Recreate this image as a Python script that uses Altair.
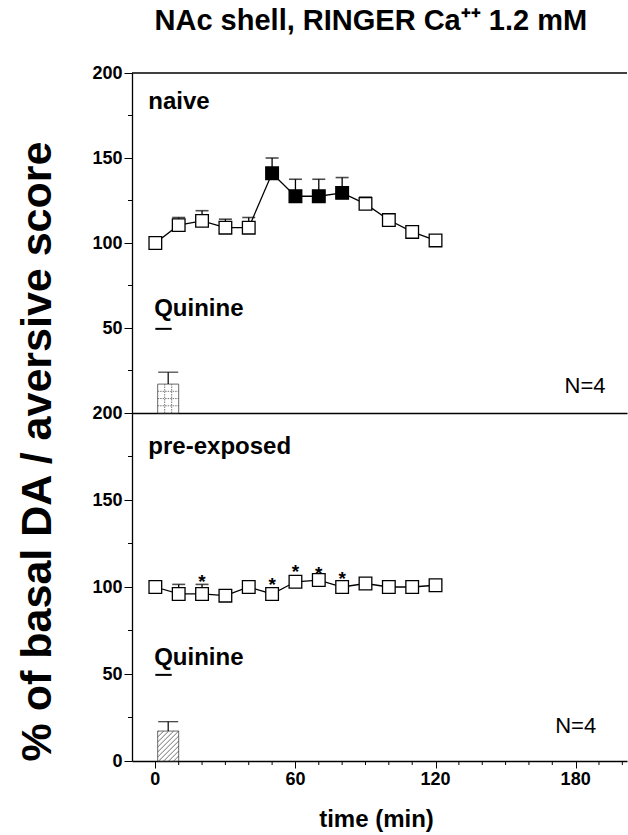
import altair as alt
import pandas as pd

FONT = "Liberation Sans"

# ---------------- values ----------------
time_min = [0, 10, 20, 30, 40, 50, 60, 70, 80, 90, 100, 110, 120]

naive_mean = [100, 110.5, 113, 109, 109, 141, 127.5, 127.5, 129.5, 123, 113.5, 106.5, 101.5]
naive_sem = [0, 4.5, 6, 5, 6, 9, 10, 10, 9, 4, 3.5, 0, 0]
naive_significant = [False, False, False, False, False, True, True, True, True,
                     False, False, False, False]

pre_mean = [100, 96, 96, 95, 100, 96, 103, 104, 100, 102, 100, 100, 101]
pre_sem = [0, 5.5, 5.5, 0, 0, 0, 0, 0, 0, 0, 0, 0, 0]

star_time = [20, 50, 60, 70, 80]
star_value = [106, 104, 111.5, 110.5, 107.5]

# aversive score bars (during quinine)
score_start = 1
score_end = 10
naive_score = 17
naive_score_sem = 7
pre_score = 17.2
pre_score_sem = 5.4

# quinine infusion marker
quinine_start = 0
quinine_end = 7
quinine_level = 49.5

# axis ticks
y_major = [50, 100, 150, 200]
y_minor = [25, 75, 125, 175]
x_major = [0, 60, 120, 180]
x_major_labels = ["0", "60", "120", "180"]
x_minor = [10, 20, 30, 40, 50, 70, 80, 90, 100, 110, 130, 140, 150, 160, 170, 190, 200]

# ---------------- layout ----------------
W = 495
H_TOP = 340
H_BOT = 348
X_DOMAIN = [-10, 202]
xs = alt.Scale(domain=X_DOMAIN, nice=False, zero=False)
ys = alt.Scale(domain=[0, 200], nice=False, zero=False)

px_per_min = W / (X_DOMAIN[1] - X_DOMAIN[0])


def series_df(mean, sem, sig):
    return pd.DataFrame({
        "time": time_min,
        "mean": mean,
        "sem": sem,
        "upper": [m + s for m, s in zip(mean, sem)],
        "marker": ["filled" if s else "open" for s in sig],
    })


def X(field, axis=alt.Undefined):
    return alt.X(field, type="quantitative", scale=xs, axis=axis)


def Y(field, axis=alt.Undefined):
    return alt.Y(field, type="quantitative", scale=ys, axis=axis)


def y_axis(values, title=None):
    kw = dict(
        values=values,
        tickSize=8,
        labelFont=FONT, labelFontSize=18, labelFontWeight="bold", labelColor="black",
        labelPadding=2, labelOverlap=False, labelFlush=False, labelBound=False,
        tickColor="black", tickWidth=1, domainColor="black", domainWidth=1.3,
        grid=False,
    )
    if title:
        kw.update(title=title, titleFont=FONT, titleFontSize=43, titleFontWeight="bold",
                  titleColor="black", titleAngle=270, titleX=-95, titleY=378,
                  titleAlign="center", titleBaseline="middle")
    else:
        kw.update(title=None)
    return alt.Axis(**kw)


def build_panel(mean, sem, sig, score, score_sem, height, label, label_y,
                quinine_y, n_pos, hatch, y_ax, x_ax, stars=False, top_border=False,
                x_minor_ticks=False):
    px_per_unit = height / 200.0
    df = series_df(mean, sem, sig)
    bar = pd.DataFrame({"x": [score_start], "x2": [score_end], "y": [0], "y2": [score],
                        "mid": [(score_start + score_end) / 2], "up": [score + score_sem]})

    layers = []
    # axes carrier: the bar itself
    layers.append(
        alt.Chart(bar).mark_rect(fill="white", stroke="#444", strokeWidth=0.8).encode(
            x=X("x", axis=x_ax), x2="x2", y=Y("y", axis=y_ax), y2="y2")
    )
    # minor ticks
    layers.append(alt.Chart(pd.DataFrame({"v": y_minor})).mark_rule(
        color="black", strokeWidth=1).encode(
        y=Y("v"), x=alt.value(0), x2=alt.value(-4)))
    if x_minor_ticks:
        layers.append(alt.Chart(pd.DataFrame({"v": x_minor})).mark_rule(
            color="black", strokeWidth=1).encode(
            x=X("v"), y=alt.value(height), y2=alt.value(height + 4)))
        # x tick labels
        layers.append(alt.Chart(pd.DataFrame({"v": x_major, "lab": x_major_labels})).mark_text(
            font=FONT, fontSize=18, fontWeight="bold", color="black",
            align="center", baseline="top").encode(
            x=X("v"), y=alt.value(height + 10), text="lab:N"))
        # x axis title
        layers.append(alt.Chart().mark_text(
            text="time (min)", font=FONT, fontSize=24, fontWeight="bold", color="black",
            align="center", baseline="middle").encode(
            x=alt.value(W / 2 - 3), y=alt.value(height + 59)))
    # hatch inside the bar
    segs = []
    if hatch == "grid":
        ncol, nrow = 3, 4
        for i in range(1, ncol):
            xv = score_start + (score_end - score_start) * i / ncol
            segs.append((xv, 0, xv, score))
        for j in range(1, nrow):
            yv = score * j / nrow
            segs.append((score_start, yv, score_end, yv))
        hatch_mark = alt.Chart(pd.DataFrame(segs, columns=["x", "y", "x2", "y2"])).mark_rule(
            color="#555", strokeWidth=0.8, strokeDash=[1.5, 1])
    else:
        wpx = (score_end - score_start) * px_per_min
        hpx = score * px_per_unit
        step = 5.0
        b = -wpx + step
        while b < hpx:
            xa = max(0.0, -b)
            xb = min(wpx, hpx - b)
            if xb > xa:
                segs.append((score_start + xa / px_per_min, (xa + b) / px_per_unit,
                             score_start + xb / px_per_min, (xb + b) / px_per_unit))
            b += step
        hatch_mark = alt.Chart(pd.DataFrame(segs, columns=["x", "y", "x2", "y2"])).mark_rule(
            color="#333", strokeWidth=0.7)
    layers.append(hatch_mark.encode(x=X("x"), y=Y("y"), x2="x2", y2="y2"))
    # bar error
    layers.append(alt.Chart(bar).mark_rule(color="black", strokeWidth=1.2).encode(
        x=X("mid"), y=Y("y2"), y2="up"))
    layers.append(alt.Chart(bar).mark_tick(orient="horizontal", size=20, thickness=1.3,
                                           color="black").encode(x=X("mid"), y=Y("up")))

    # series error bars
    err = alt.Chart(df).transform_filter("datum.sem > 0")
    layers.append(err.mark_rule(color="black", strokeWidth=1.3).encode(
        x=X("time"), y=Y("mean"), y2="upper"))
    layers.append(err.mark_tick(orient="horizontal", size=13, thickness=1.6,
                                color="black").encode(x=X("time"), y=Y("upper")))
    # line + markers
    layers.append(alt.Chart(df).mark_line(color="black", strokeWidth=1.3).encode(
        x=X("time"), y=Y("mean")))
    layers.append(alt.Chart(df).mark_square(size=160, stroke="black", strokeWidth=1.3,
                                            opacity=1).encode(
        x=X("time"), y=Y("mean"),
        fill=alt.Fill("marker:N", scale=alt.Scale(domain=["open", "filled"],
                                                   range=["white", "black"]), legend=None)))

    if stars:
        sdf = pd.DataFrame({"time": star_time, "value": star_value})
        layers.append(alt.Chart(sdf).mark_text(text="*", font=FONT, fontSize=19,
                                               fontWeight="bold", baseline="middle",
                                               dy=5, color="black").encode(
            x=X("time"), y=Y("value")))

    # annotations
    layers.append(alt.Chart().mark_text(text=label, font=FONT, fontSize=24, fontWeight="bold",
                                        align="left", baseline="middle", color="black").encode(
        x=alt.XDatum(-3, scale=xs), y=alt.YDatum(label_y, scale=ys)))
    layers.append(alt.Chart().mark_text(text="Quinine", font=FONT, fontSize=24, fontWeight="bold",
                                        align="left", baseline="middle", color="black").encode(
        x=alt.XDatum(-0.5, scale=xs), y=alt.YDatum(quinine_y, scale=ys)))
    layers.append(alt.Chart().mark_rule(color="black", strokeWidth=2).encode(
        x=alt.XDatum(quinine_start, scale=xs), x2=alt.X2Datum(quinine_end),
        y=alt.YDatum(quinine_level, scale=ys)))
    layers.append(alt.Chart().mark_text(text="N=4", font=FONT, fontSize=22,
                                        align="center", baseline="middle", color="black").encode(
        x=alt.XDatum(n_pos[0], scale=xs), y=alt.YDatum(n_pos[1], scale=ys)))
    if top_border:
        layers.append(alt.Chart().mark_rule(color="black", strokeWidth=1.3).encode(
            x=alt.XDatum(X_DOMAIN[0], scale=xs), x2=alt.X2Datum(X_DOMAIN[1]),
            y=alt.YDatum(200, scale=ys)))

    return alt.layer(*layers).properties(width=W, height=height)


top_x_axis = alt.Axis(labels=False, ticks=False, title=None, domainColor="black",
                      domainWidth=1.5, grid=False)
bot_x_axis = alt.Axis(
    values=x_major, tickSize=7, labels=False, title=None,
    tickColor="black", tickWidth=1, domainColor="black", domainWidth=1.5, grid=False,
)

top = build_panel(naive_mean, naive_sem, naive_significant, naive_score, naive_score_sem,
                  H_TOP, "naive", 183, 61, (184, 16), "grid",
                  y_axis(y_major, title="% of basal DA / aversive score"),
                  top_x_axis, stars=False, top_border=True)

bottom = build_panel(pre_mean, pre_sem, [False] * len(time_min), pre_score, pre_score_sem,
                     H_BOT, "pre-exposed", 180.5, 59, (180, 20), "diag",
                     y_axis([0] + y_major),
                     bot_x_axis, stars=True, x_minor_ticks=True)

chart = alt.vconcat(top, bottom, spacing=0, bounds="flush").properties(
    title=alt.TitleParams(text="NAc shell, RINGER Ca\u207a\u207a 1.2 mM", font=FONT,
                          fontSize=29, fontWeight="bold", color="black", anchor="middle",
                          offset=28, dx=49),
    padding={"left": 15, "top": 7, "right": 0, "bottom": 5},
    background="white",
).configure_view(stroke=None)

chart.save("out.html", embed_options={"renderer": "svg", "actions": False})
